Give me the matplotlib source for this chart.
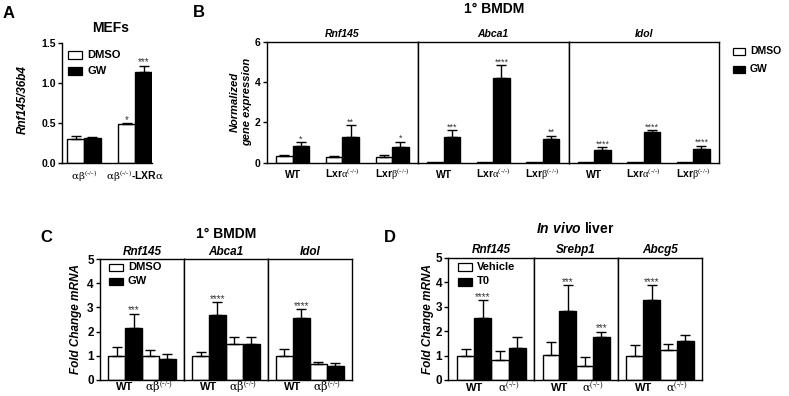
import numpy as np
import matplotlib
matplotlib.use('Agg')
import matplotlib.pyplot as plt
from matplotlib.patches import Rectangle

plt.rcParams['font.family'] = 'Liberation Sans'
plt.rcParams['mathtext.fontset'] = 'custom'
plt.rcParams['mathtext.rm'] = 'Liberation Serif'
plt.rcParams['mathtext.sf'] = 'DejaVu Serif'
plt.rcParams['mathtext.it'] = 'Liberation Sans:italic:bold'
plt.rcParams['mathtext.bf'] = 'Liberation Sans:bold'
plt.rcParams['axes.linewidth'] = 1.0

HY = '\u2010'
SUP = '^{\\mathrm{(' + HY + '/' + HY + ')}}'

# ---------------- data ----------------
A_groups = ['$\\mathsf{\\alpha\\beta}' + SUP + '$',
            '$\\mathsf{\\alpha\\beta}' + SUP + '$-LXR$\\mathsf{\\alpha}$']
A_series = ['DMSO', 'GW']
A_dmso = [0.30, 0.49]
A_dmso_err = [0.04, 0.01]
A_gw = [0.32, 1.14]
A_gw_err = [0.01, 0.08]
A_dmso_stars = ['', '*']
A_gw_stars = ['', '***']
A_yticks = [0.0, 0.5, 1.0, 1.5]

B_genes = ['Rnf145', 'Abca1', 'Idol']
B_groups = ['WT', 'Lxr$\\mathrm{\\alpha}' + SUP + '$', 'Lxr$\\mathrm{\\beta}' + SUP + '$']
B_series = ['DMSO', 'GW']
B_dmso = [[0.34, 0.28, 0.30], [0.02, 0.02, 0.05], [0.02, 0.03, 0.01]]
B_dmso_err = [[0.04, 0.04, 0.07], [0, 0, 0], [0, 0, 0]]
B_gw = [[0.81, 1.30, 0.76], [1.28, 4.20, 1.17], [0.63, 1.52, 0.67]]
B_gw_err = [[0.22, 0.55, 0.29], [0.34, 0.65, 0.18], [0.14, 0.11, 0.18]]
B_gw_stars = [['*', '**', '*'], ['***', '****', '**'], ['****', '****', '****']]
B_yticks = [0, 2, 4, 6]

C_genes = ['Rnf145', 'Abca1', 'Idol']
C_groups = ['WT', '$\\mathsf{\\alpha\\beta}' + SUP + '$']
C_series = ['DMSO', 'GW']
C_dmso = [[1.0, 1.0], [1.0, 1.49], [1.0, 0.65]]
C_dmso_err = [[0.38, 0.24], [0.17, 0.27], [0.28, 0.08]]
C_gw = [[2.15, 0.85], [2.70, 1.49], [2.55, 0.59]]
C_gw_err = [[0.59, 0.22], [0.51, 0.30], [0.37, 0.10]]
C_gw_stars = [['***', ''], ['****', ''], ['****', '']]
C_yticks = [0, 1, 2, 3, 4, 5]

D_genes = ['Rnf145', 'Srebp1', 'Abcg5']
D_groups = ['WT', '$\\mathsf{\\alpha}' + SUP + '$']
D_series = ['Vehicle', 'T0']
D_veh = [[0.99, 0.80], [1.02, 0.59], [1.00, 1.21]]
D_veh_err = [[0.28, 0.40], [0.55, 0.36], [0.43, 0.28]]
D_t0 = [[2.52, 1.32], [2.82, 1.74], [3.26, 1.58]]
D_t0_err = [[0.74, 0.42], [1.06, 0.24], [0.62, 0.26]]
D_t0_stars = [['****', ''], ['***', '***'], ['****', '']]
D_yticks = [0, 1, 2, 3, 4, 5]

# ---------------- helpers ----------------
W, H = 789, 396
fig = plt.figure(figsize=(W / 100, H / 100), dpi=100)


def add_ax(l, t, r, b):
    return fig.add_axes([l / W, 1 - b / H, (r - l) / W, (b - t) / H])


def ftext(x, y, s, **kw):
    return fig.text(x / W, 1 - y / H, s, **kw)


def fbox(l, t, w, h, fc):
    fig.add_artist(Rectangle((l / W, 1 - (t + h) / H), w / W, h / H,
                             transform=fig.transFigure, facecolor=fc,
                             edgecolor='black', linewidth=0.9))


def bars(ax, x, vals, errs, color, width, stars=None, sfs=7):
    x = np.asarray(x, float)
    vals = np.asarray(vals, float)
    errs = np.asarray(errs, float)
    ax.bar(x, vals, width, color=color, edgecolor='black', linewidth=1.0, zorder=2)
    m = errs > 0
    if m.any():
        ax.errorbar(x[m], vals[m], yerr=[np.zeros(m.sum()), errs[m]], fmt='none',
                    ecolor='black', elinewidth=1.0, capsize=3.3, capthick=1.0, zorder=3)
    if stars:
        for xi, v, e, s in zip(x, vals, errs, stars):
            if s:
                ax.annotate(s, (xi, v + e), xytext=(0, 0.3), textcoords='offset points',
                            ha='center', va='baseline', fontsize=sfs, color='#333333')


def setup(ax, xlim, ylim, yticks, show_y, xlabels, xpad, xfs, yfs, yfmt='{:g}'):
    ax.set_xlim(*xlim)
    ax.set_ylim(*ylim)
    ax.set_xticks(range(len(xlabels)))
    ax.set_xticklabels(xlabels, fontsize=xfs, fontweight='bold')
    ax.tick_params(axis='x', length=0, pad=xpad)
    for t in ax.get_xticklabels():
        t.set_va('baseline')
    if show_y:
        ax.set_yticks(yticks)
        ax.set_yticklabels([yfmt.format(v) for v in yticks], fontsize=yfs, fontweight='bold')
        ax.tick_params(axis='y', length=3, width=1.0, direction='out', pad=1.5)
    else:
        ax.set_yticks([])
    for sp in ax.spines.values():
        sp.set_linewidth(1.0)


# ---------------- panel A ----------------
axA = add_ax(62, 43.3, 152, 163.3)
xa = np.arange(len(A_groups))
bars(axA, xa - 0.165, A_dmso, A_dmso_err, 'white', 0.33, A_dmso_stars, 7)
bars(axA, xa + 0.165, A_gw, A_gw_err, 'black', 0.33, A_gw_stars, 7)
setup(axA, (-0.43, 1.33), (0, 1.5), A_yticks, True, A_groups, 12, 7.5, 7.5, '{:.1f}')
axA.spines['top'].set_visible(False)
axA.spines['right'].set_visible(False)
ftext(3, 18, 'A', fontsize=12, fontweight='bold', ha='left', va='baseline')
ftext(111, 32, 'MEFs', fontsize=10, fontweight='bold', ha='center', va='baseline')
ftext(23, 100, 'Rnf145/36b4', fontsize=8.5, fontweight='bold', fontstyle='italic',
      rotation=90, ha='center', va='center')
fbox(68, 51, 14, 8, 'white')
fbox(68, 67, 14, 8, 'black')
ftext(87, 55, A_series[0], fontsize=8, fontweight='bold', ha='left', va='center')
ftext(87, 71, A_series[1], fontsize=8, fontweight='bold', ha='left', va='center')

# ---------------- panel B ----------------
B_edges = [266.7, 418.0, 568.5, 719.0]
xb = np.arange(len(B_groups))
for i, gene in enumerate(B_genes):
    ax = add_ax(B_edges[i], 42, B_edges[i + 1], 162.7)
    bars(ax, xb - 0.165, B_dmso[i], B_dmso_err[i], 'white', 0.33)
    bars(ax, xb + 0.165, B_gw[i], B_gw_err[i], 'black', 0.33, B_gw_stars[i], 6.5)
    setup(ax, (-0.52, 2.52), (0, 6), B_yticks, i == 0, B_groups, 11, 7.5, 7.5)
    ftext((B_edges[i] + B_edges[i + 1]) / 2, 36.7, gene, fontsize=7.5, fontweight='bold',
          fontstyle='italic', ha='center', va='baseline')
ftext(193, 17, 'B', fontsize=12, fontweight='bold', ha='left', va='baseline')
ftext(494, 13.3, '1° BMDM', fontsize=10, fontweight='bold', ha='center', va='baseline')
ftext(241, 102, 'Normalized\ngene expression', fontsize=8, fontweight='bold',
      fontstyle='italic', rotation=90, ha='center', va='center',
      multialignment='center', linespacing=1.3)
fbox(733, 47.5, 12, 7, 'white')
fbox(733, 65.5, 12, 7, 'black')
ftext(750, 51, B_series[0], fontsize=7.5, fontweight='bold', ha='left', va='center')
ftext(750, 69, B_series[1], fontsize=7.5, fontweight='bold', ha='left', va='center')

# ---------------- panel C ----------------
C_edges = [100.0, 184.0, 267.7, 351.7]
xc = np.arange(len(C_groups))
for i, gene in enumerate(C_genes):
    ax = add_ax(C_edges[i], 259, C_edges[i + 1], 380)
    bars(ax, xc - 0.25, C_dmso[i], C_dmso_err[i], 'white', 0.5)
    bars(ax, xc + 0.25, C_gw[i], C_gw_err[i], 'black', 0.5, C_gw_stars[i], 7)
    setup(ax, (-0.74, 1.74), (0, 5), C_yticks, i == 0, C_groups, 7.5, 8, 8.5)
    ftext((C_edges[i] + C_edges[i + 1]) / 2, 255, gene, fontsize=8.5, fontweight='bold',
          fontstyle='italic', ha='center', va='baseline')
ftext(40, 242, 'C', fontsize=12, fontweight='bold', ha='left', va='baseline')
ftext(226, 238, '1° BMDM', fontsize=10, fontweight='bold', ha='center', va='baseline')
ftext(76, 319, 'Fold Change mRNA', fontsize=8.5, fontweight='bold', fontstyle='italic',
      rotation=90, ha='center', va='center')
fbox(109, 263.5, 14, 7.5, 'white')
fbox(109, 277.5, 14, 7.5, 'black')
ftext(128, 267, C_series[0], fontsize=8, fontweight='bold', ha='left', va='center')
ftext(128, 281, C_series[1], fontsize=8, fontweight='bold', ha='left', va='center')

# ---------------- panel D ----------------
D_edges = [448.3, 534.0, 617.7, 701.7]
xd = np.arange(len(D_groups))
for i, gene in enumerate(D_genes):
    ax = add_ax(D_edges[i], 257.7, D_edges[i + 1], 380)
    bars(ax, xd - 0.25, D_veh[i], D_veh_err[i], 'white', 0.5)
    bars(ax, xd + 0.25, D_t0[i], D_t0_err[i], 'black', 0.5, D_t0_stars[i], 7)
    setup(ax, (-0.76, 1.74), (0, 5), D_yticks, i == 0, D_groups, 8, 8, 8.5)
    ftext((D_edges[i] + D_edges[i + 1]) / 2, 253, gene, fontsize=8.5, fontweight='bold',
          fontstyle='italic', ha='center', va='baseline')
ftext(384, 242, 'D', fontsize=12, fontweight='bold', ha='left', va='baseline')
ftext(575, 233, r'$\mathit{In\ vivo}$ liver', fontsize=10, fontweight='bold',
      ha='center', va='baseline')
ftext(428.5, 319, 'Fold Change mRNA', fontsize=8.5, fontweight='bold', fontstyle='italic',
      rotation=90, ha='center', va='center')
fbox(458, 263, 14, 7.5, 'white')
fbox(458, 278, 14, 7.5, 'black')
ftext(477, 266.5, D_series[0], fontsize=8, fontweight='bold', ha='left', va='center')
ftext(477, 281.5, D_series[1], fontsize=8, fontweight='bold', ha='left', va='center')

fig.savefig('out.png', dpi=100)
